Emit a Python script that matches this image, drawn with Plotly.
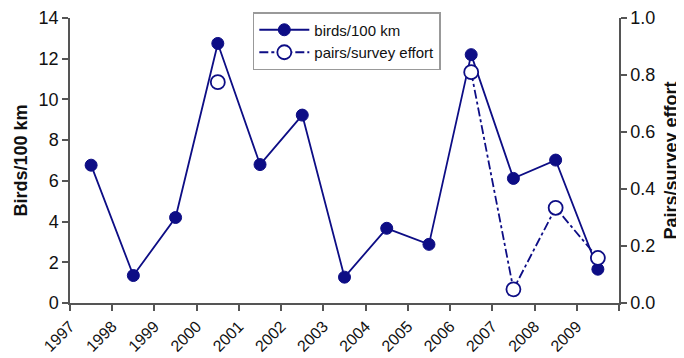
import plotly.graph_objects as go

years = list(range(1997, 2010))
tick_labels = [str(y) for y in years]
birds = [6.77, 1.35, 4.2, 12.75, 6.8, 9.23, 1.27, 3.67, 2.88, 12.2, 6.12, 7.02, 1.66]
pairs = [None, None, None, 0.775, None, None, None, None, None, 0.81, 0.048, 0.334, 0.158]

xpos = [y + 0.5 for y in years]
navy = "#0d0d85"

fig = go.Figure()
fig.add_trace(go.Scatter(
    x=xpos, y=birds, name="birds/100 km", mode="lines+markers",
    line=dict(color=navy, width=1.8),
    marker=dict(color=navy, size=12, line=dict(color=navy, width=1)),
))
fig.add_trace(go.Scatter(
    x=xpos, y=pairs, name="pairs/survey effort", mode="lines+markers",
    line=dict(color=navy, width=1.8, dash="dashdot"),
    marker=dict(color="white", size=14, line=dict(color=navy, width=1.8)),
    connectgaps=False, yaxis="y2",
))

axis_col = "#555555"
# page body has an 8px default margin, so the figure is 8px smaller on each side
fig.update_layout(
    width=676, height=350,
    margin=dict(l=62, r=65, t=10, b=55, autoexpand=False),
    paper_bgcolor="white", plot_bgcolor="white",
    font=dict(family="Liberation Sans, Arial, sans-serif", color="#111111"),
    showlegend=True,
    legend=dict(
        x=0.333, y=1.021, xanchor="left", yanchor="top",
        bordercolor="#999999", borderwidth=1.5, bgcolor="white",
        font=dict(size=15), tracegroupgap=0, itemwidth=50,
    ),
    xaxis=dict(
        range=[1997, 2010], tickmode="array",
        tickvals=years + [2010], ticktext=tick_labels + [""],
        tickangle=-45, tickfont=dict(size=16), ticklabeloverflow="allow",
        showgrid=False, zeroline=False, automargin=False,
        showline=True, linecolor=axis_col, linewidth=1.5,
        ticks="outside", ticklen=6, tickcolor=axis_col, tickwidth=1.5,
    ),
    yaxis=dict(
        range=[0, 14], tickvals=[0, 2, 4, 6, 8, 10, 12, 14],
        tickfont=dict(size=18), ticklabeloverflow="allow",
        showgrid=False, zeroline=False, automargin=False,
        showline=True, linecolor=axis_col, linewidth=1.5,
        ticks="outside", ticklen=6, tickcolor=axis_col, tickwidth=1.5,
        title=dict(text="<b>Birds/100 km</b>", font=dict(size=18), standoff=6),
    ),
    yaxis2=dict(
        range=[0, 1.0], overlaying="y", side="right",
        tickvals=[0, 0.2, 0.4, 0.6, 0.8, 1.0],
        ticktext=["0.0", "0.2", "0.4", "0.6", "0.8", "1.0"],
        tickfont=dict(size=18), ticklabeloverflow="allow",
        showgrid=False, zeroline=False, automargin=False,
        showline=True, linecolor=axis_col, linewidth=1.5,
        ticks="outside", ticklen=6, tickcolor=axis_col, tickwidth=1.5,
        title=dict(text="<b>Pairs/survey effort</b>", font=dict(size=18), standoff=10),
    ),
)

fig.write_html("out.html")
